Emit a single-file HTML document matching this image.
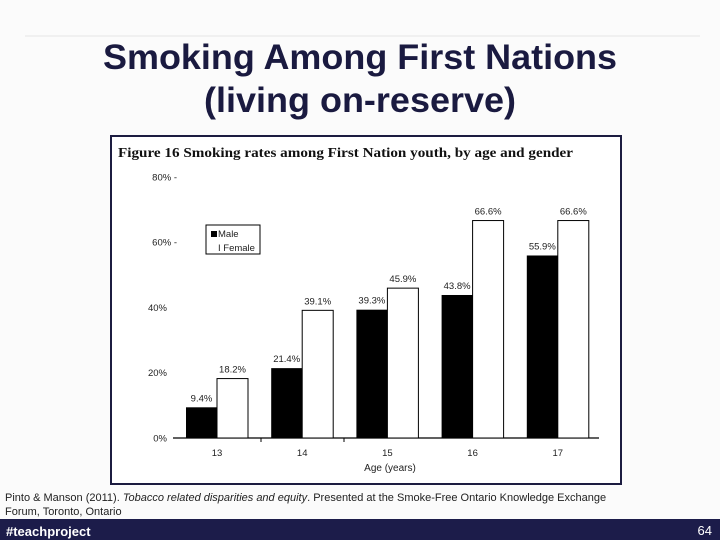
<!DOCTYPE html>
<html><head><meta charset="utf-8"><style>
html,body{margin:0;padding:0;background:#fff;}
svg{display:block;font-family:"Liberation Sans",sans-serif;}
</style></head><body>
<svg width="720" height="540" viewBox="0 0 720 540">
<rect x="0" y="0" width="720" height="540" fill="#fbfbfb"/>
<line x1="25" y1="36" x2="700" y2="36" stroke="#e6e6e6" stroke-width="1"/>
<text x="360" y="69" text-anchor="middle" font-size="35" font-weight="bold" fill="#1a1a40" textLength="514" lengthAdjust="spacingAndGlyphs">Smoking Among First Nations</text>
<text x="360" y="112" text-anchor="middle" font-size="35" font-weight="bold" fill="#1a1a40" textLength="312" lengthAdjust="spacingAndGlyphs">(living on-reserve)</text>
<g id="chart">
<rect x="111" y="136" width="510" height="348" fill="#fff" stroke="#1c1c40" stroke-width="2"/>
<text x="118" y="157" font-family="Liberation Serif,serif" font-weight="bold" font-size="14" fill="#111" textLength="455" lengthAdjust="spacingAndGlyphs">Figure 16 Smoking rates among First Nation youth, by age and gender</text>
<line x1="173" y1="438" x2="599" y2="438" stroke="#000" stroke-width="1.2"/>
<line x1="261" y1="438" x2="261" y2="442" stroke="#000"/>
<line x1="344" y1="438" x2="344" y2="442" stroke="#000"/>
<text x="390" y="471" text-anchor="middle" font-size="10" fill="#222">Age (years)</text>
<g id="yticks"></g>
<g id="bars"></g>
<rect x="206" y="225" width="54" height="29" fill="#fff" stroke="#000" stroke-width="1"/>
<rect x="211" y="231" width="6" height="6" fill="#000"/>
<text x="218" y="237" font-size="9.5" fill="#222">Male</text>
<text x="218" y="251" font-size="9.5" fill="#222">I Female</text>
</g>
<text x="5" y="501" font-size="11" fill="#222">Pinto &amp; Manson (2011). <tspan font-style="italic">Tobacco related disparities and equity</tspan>. Presented at the Smoke-Free Ontario Knowledge Exchange</text>
<text x="5" y="515" font-size="11" fill="#222">Forum, Toronto, Ontario</text>
<rect x="0" y="519" width="720" height="21" fill="#1c1c4a"/>
<text x="6" y="536" font-size="13" font-weight="bold" fill="#fff">#teachproject</text>
<text x="712" y="535" text-anchor="end" font-size="13" fill="#fff">64</text>
</svg>
<script>
const categories = ["13","14","15","16","17"];
const maleValues = [9.4, 21.4, 39.3, 43.8, 55.9];
const femaleValues = [18.2, 39.1, 45.9, 66.6, 66.6];
const maleLabels = ["9.4%","21.4%","39.3%","43.8%","55.9%"];
const femaleLabels = ["18.2%","39.1%","45.9%","66.6%","66.6%"];
const yTicks = [0, 20, 40, 60, 80];
const yTickLabels = ["0%","20%","40%","60%","80% -"];

const NS = "http://www.w3.org/2000/svg";
const y0 = 438, pxPer = 65.3/20;
function yScale(v){ return y0 - v*pxPer; }
const xStart = 217, step = 85.2;
function xScale(i){ return xStart + i*step; }
const barW = 31;

const yg = document.getElementById('yticks');
yTicks.forEach((t,i)=>{
  const tx = document.createElementNS(NS,'text');
  tx.setAttribute('x', 167); tx.setAttribute('y', yScale(t)+3.5);
  tx.setAttribute('text-anchor','end'); tx.setAttribute('font-size','9.5'); tx.setAttribute('fill','#222');
  tx.textContent = (t===60||t===80) ? yTickLabels[i].replace(' -','') + ' -' : yTickLabels[i];
  
  
  if (t===60||t===80) tx.setAttribute('x', 177);
  yg.appendChild(tx);
});

const bg = document.getElementById('bars');
categories.forEach((c,i)=>{
  const cx = xScale(i);
  const f = document.createElementNS(NS,'rect');
  f.setAttribute('x', cx); f.setAttribute('y', yScale(femaleValues[i]));
  f.setAttribute('width', barW); f.setAttribute('height', y0 - yScale(femaleValues[i]));
  f.setAttribute('fill','#fff'); f.setAttribute('stroke','#000'); f.setAttribute('stroke-width','1');
  
  
  bg.appendChild(f);
  const m = document.createElementNS(NS,'rect');
  m.setAttribute('x', cx - barW); m.setAttribute('y', yScale(maleValues[i]));
  m.setAttribute('width', barW); m.setAttribute('height', y0 - yScale(maleValues[i]));
  m.setAttribute('fill','#000');
  
  
  bg.appendChild(m);
  const ml = document.createElementNS(NS,'text');
  ml.setAttribute('x', cx - barW/2); ml.setAttribute('y', yScale(maleValues[i]) - 6);
  ml.setAttribute('text-anchor','middle'); ml.setAttribute('font-size','9.5'); ml.setAttribute('fill','#222');
  ml.textContent = maleLabels[i];
  
  
  bg.appendChild(ml);
  const fl = document.createElementNS(NS,'text');
  fl.setAttribute('x', cx + barW/2); fl.setAttribute('y', yScale(femaleValues[i]) - 6);
  fl.setAttribute('text-anchor','middle'); fl.setAttribute('font-size','9.5'); fl.setAttribute('fill','#222');
  fl.textContent = femaleLabels[i];
  
  
  bg.appendChild(fl);
  const cl = document.createElementNS(NS,'text');
  cl.setAttribute('x', cx); cl.setAttribute('y', 456);
  cl.setAttribute('text-anchor','middle'); cl.setAttribute('font-size','9.5'); cl.setAttribute('fill','#222');
  cl.textContent = c;
  
  
  bg.appendChild(cl);
});
</script>
</body></html>
